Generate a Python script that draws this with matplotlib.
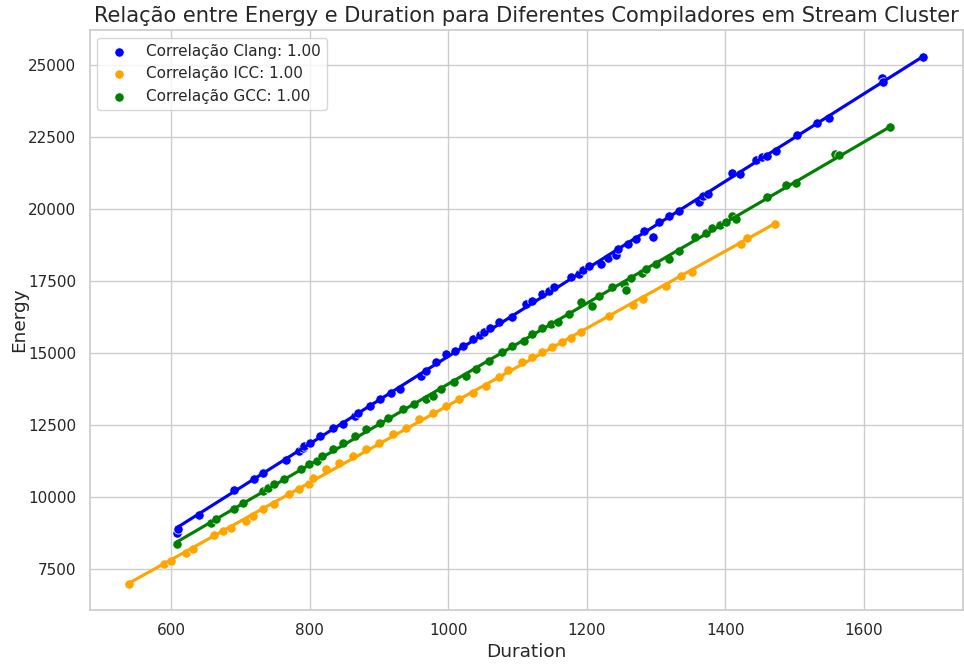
import matplotlib
matplotlib.use("Agg")
import matplotlib.pyplot as plt
import seaborn as sns
import numpy as np

sns.set_theme(style="whitegrid")

# Stream Cluster runs: duration vs energy per compiler
clang_duration = [607.6, 609, 640.4, 691, 719.8, 731.8, 765.4, 784.8, 790.4, 792, 800, 814.5,
                  833.7, 848.1, 864.9, 870, 886.6, 901, 917.7, 929.7, 960, 967.7, 982, 996.5,
                  1010, 1020.5, 1034.9, 1045, 1051.7, 1060, 1073.3, 1092.5, 1111.7, 1121.3,
                  1135.7, 1145, 1152.7, 1176.8, 1188.9, 1195, 1203.3, 1220.2, 1230, 1241.9,
                  1244.2, 1258.7, 1270.7, 1282.7, 1295.5, 1304.2, 1318.6, 1333, 1362, 1366.8,
                  1375.4, 1410, 1421, 1444.6, 1452.4, 1460.5, 1473.5, 1503.8, 1532, 1549.5,
                  1625.5, 1627, 1685.6]
clang_energy = [8742, 8881, 9344, 10214, 10620, 10829, 11268, 11581, 11700, 11755, 11873, 12106,
                12395, 12510, 12799, 12900, 13146, 13380, 13612, 13728, 14200, 14369, 14656, 14946,
                15050, 15236, 15467, 15600, 15700, 15850, 16048, 16222, 16685, 16801,
                17033, 17150, 17266, 17615, 17729, 17850, 18000, 18077, 18300, 18390,
                18598, 18772, 18946, 19235, 19016, 19527, 19757, 19931, 20244, 20453,
                20501, 21243, 21197, 21695, 21775, 21810, 21984, 22540, 22958, 23156,
                24548, 24398, 25254]

icc_duration = [539.4, 589.9, 599.6, 621.2, 630.8, 662.1, 674.1, 686.2, 707.9, 717.4, 731.8,
                748.6, 770.2, 784.8, 799, 804.2, 823.5, 842.6, 861.8, 881.2, 900.3, 919.6,
                938.8, 958, 977.1, 996.5, 1015.6, 1034.9, 1054, 1073.3, 1086, 1106.9, 1121.3,
                1135.7, 1150.2, 1164.6, 1176.8, 1191.2, 1232.2, 1265.8, 1280.2, 1313.8, 1335.5,
                1352.2, 1422.5, 1431, 1471.6]
icc_energy = [6968, 7664, 7754, 8045, 8161, 8648, 8800, 8916, 9148, 9321, 9553,
              9728, 10075, 10249, 10423, 10655, 10945, 11176, 11408, 11640, 11873, 12163,
              12395, 12684, 12917, 13148, 13380, 13612, 13844, 14134, 14400, 14679, 14830,
              15004, 15178, 15352, 15491, 15722, 16279, 16650, 16860, 17324, 17672,
              17811, 18772, 18981, 19458]

gcc_duration = [608, 657, 664.3, 691, 703, 731.8, 739, 748.6, 763, 787.2, 799, 811, 816.9,
                833.7, 848.1, 864.9, 881.7, 900.9, 912.3, 934, 950.8, 967.7, 977.1, 989.2,
                1008.4, 1025.3, 1039.7, 1058.9, 1078, 1092.5, 1109.4, 1121.3, 1135.7, 1147.8,
                1157.5, 1174.3, 1191.2, 1207, 1217.6, 1236.8, 1253.7, 1256, 1263.3, 1280,
                1285, 1299.4, 1318.6, 1333, 1355.6, 1371.5, 1380.2, 1391.8, 1400.4, 1409.1,
                1415.8, 1460.5, 1487.9, 1502.3, 1558.6, 1563.5, 1637.1]
gcc_energy = [8335, 9090, 9229, 9553, 9785, 10190, 10306, 10423, 10597, 10945, 11118, 11234, 11408,
              11640, 11873, 12105, 12337, 12568, 12742, 13032, 13206, 13380, 13496, 13728,
              13960, 14192, 14423, 14714, 15004, 15236, 15408, 15641, 15839, 15989,
              16048, 16337, 16744, 16605, 16977, 17266, 17381, 17172, 17579, 17753,
              17903, 18077, 18251, 18540, 19027, 19155, 19318, 19423, 19527, 19736,
              19654, 20385, 20815, 20905, 21893, 21858, 22843]

series = [
    ("Clang", clang_duration, clang_energy, "blue"),
    ("ICC", icc_duration, icc_energy, "orange"),
    ("GCC", gcc_duration, gcc_energy, "green"),
]

fig, ax = plt.subplots(figsize=(9.64, 6.64), dpi=100)
fig.subplots_adjust(left=0.093, right=0.999, top=0.955, bottom=0.081)

for name, dur, en, color in series:
    corr = np.corrcoef(dur, en)[0, 1]
    sns.scatterplot(x=dur, y=en, color=color, s=45, ax=ax,
                    label=f"Correlação {name}: {corr:.2f}")
    sns.regplot(x=dur, y=en, scatter=False, color=color, ci=None, ax=ax)

ax.set_title("Relação entre Energy e Duration para Diferentes Compiladores em Stream Cluster",
             fontsize=15.1)
ax.set_xlabel("Duration", fontsize=13.3, labelpad=3)
ax.set_ylabel("Energy", fontsize=13.3, labelpad=0.5)
ax.legend(loc="upper left")

plt.savefig("out.png", dpi=100)
